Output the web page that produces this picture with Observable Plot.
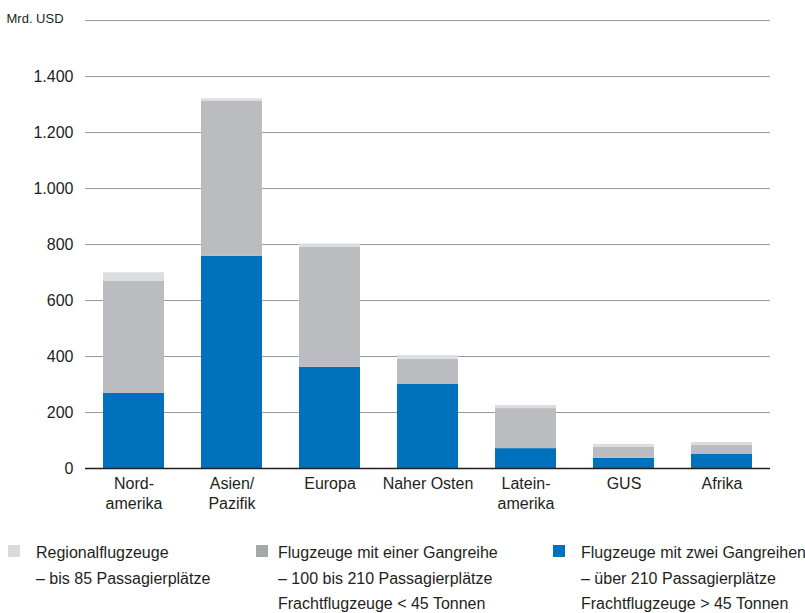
<!DOCTYPE html>
<html>
<head>
<meta charset="utf-8">
<script src="https://cdn.jsdelivr.net/npm/d3@7"></script>
<script src="https://cdn.jsdelivr.net/npm/@observablehq/plot@0.6"></script>
<style>
  html, body { margin: 0; padding: 0; background: #fff; }
  body { width: 805px; height: 613px; overflow: hidden; font-family: "Liberation Sans", Arial, sans-serif; color: #231f20; }
  #wrap { position: relative; width: 805px; }
  #legend { position: relative; width: 805px; height: 88px; font-size: 16px; }
  .sw { position: absolute; width: 12px; height: 12px; top: 20px; }
  .txt { position: absolute; top: 15px; white-space: nowrap; line-height: 25.5px; }
</style>
</head>
<body>
<div id="wrap">
  <div id="chart"></div>
  <div id="legend"></div>
</div>
<script>
const regions = ["Nord-\namerika", "Asien/\nPazifik", "Europa", "Naher Osten", "Latein-\namerika", "GUS", "Afrika"];
const seriesNames = ["Flugzeuge mit zwei Gangreihen", "Flugzeuge mit einer Gangreihe", "Regionalflugzeuge"];
const twoAisle    = [268, 758, 361, 300, 71, 36, 50];
const singleAisle = [400, 553, 429, 90, 143, 39, 32];
const regional    = [31, 9, 12, 13, 11, 11, 11];
const barColors   = ["#0071bc", "#bbbcbf", "#dcdddf"];
const legendColors = ["#d9dadc", "#a7a8ab", "#0071bc"];
const yTicks = [0, 200, 400, 600, 800, 1000, 1200, 1400];
const gridValues = [200, 400, 600, 800, 1000, 1200, 1400, 1600];
const unitLabel = "Mrd. USD";
const legendItems = [
  ["Regionalflugzeuge", "– bis 85 Passagierplätze"],
  ["Flugzeuge mit einer Gangreihe", "– 100 bis 210 Passagierplätze", "Frachtflugzeuge < 45 Tonnen"],
  ["Flugzeuge mit zwei Gangreihen", "– über 210 Passagierplätze", "Frachtflugzeuge > 45 Tonnen"]
];

const seriesValues = [twoAisle, singleAisle, regional];
const data = [];
seriesNames.forEach((s, i) => {
  regions.forEach((r, j) => data.push({region: r, series: s, value: seriesValues[i][j]}));
});

const de = d3.formatLocale({decimal: ",", thousands: ".", grouping: [3], currency: ["", ""]});
const fmt = de.format(",");

const fontFamily = '"Liberation Sans", Arial, sans-serif';

const chart = Plot.plot({
  width: 805,
  height: 525,
  marginLeft: 85,
  marginRight: 35,
  marginTop: 20,
  marginBottom: 57,
  style: {fontFamily, fontSize: "16px", color: "#231f20", background: "#fff"},
  x: {domain: regions, paddingInner: 0.38, paddingOuter: 0.18, label: null},
  y: {domain: [0, 1600], label: null},
  color: {domain: seriesNames, range: barColors},
  marks: [
    Plot.ruleY(gridValues, {stroke: "#9a9a9c", strokeWidth: 1.2}),
    Plot.barY(data, {x: "region", y: "value", fill: "series"}),
    Plot.ruleY([0], {stroke: "#231f20", strokeWidth: 1.5}),
    Plot.axisY({ticks: yTicks, tickSize: 0, tickPadding: 12, tickFormat: fmt, label: null, fontSize: 16}),
    Plot.axisX({tickSize: 0, tickPadding: 7, label: null, lineHeight: 1.22, fontSize: 16}),
    Plot.text([unitLabel], {frameAnchor: "top-left", text: d => d, dx: -79, dy: -2, textAnchor: "start", lineAnchor: "middle", fontSize: 13, fill: "#231f20"})
  ]
});
document.getElementById("chart").appendChild(chart);

const legend = document.getElementById("legend");
const legX = [8, 256, 553];
const txtX = [36, 278, 581];
legendItems.forEach((lines, i) => {
  const sw = document.createElement("div");
  sw.className = "sw";
  sw.style.left = legX[i] + "px";
  sw.style.background = legendColors[i];
  legend.appendChild(sw);
  const t = document.createElement("div");
  t.className = "txt";
  t.style.left = txtX[i] + "px";
  t.innerHTML = lines.map(l => l.replace(/</g, "&lt;").replace(/>/g, "&gt;")).join("<br>");
  legend.appendChild(t);
});
</script>
</body>
</html>
